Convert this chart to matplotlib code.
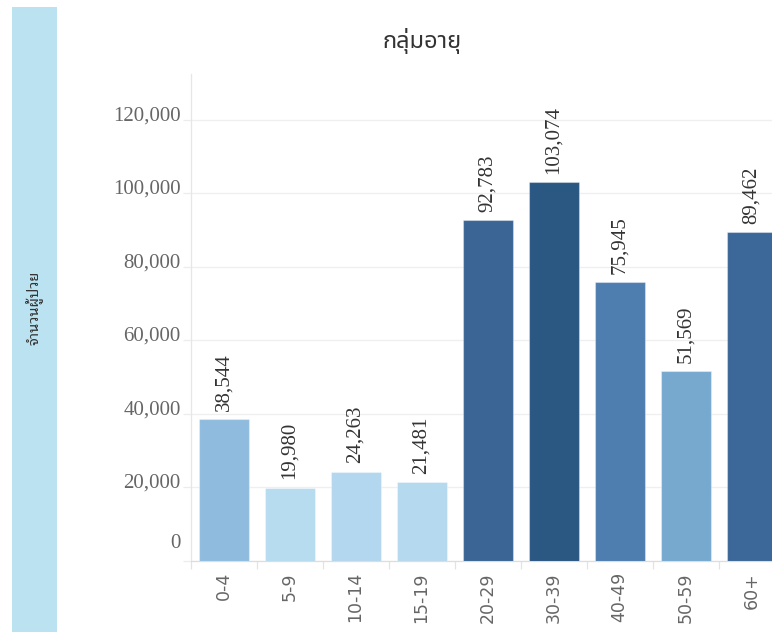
import matplotlib
matplotlib.use("Agg")
import matplotlib.pyplot as plt
import matplotlib.transforms as mtransforms

categories = ["0-4", "5-9", "10-14", "15-19", "20-29", "30-39", "40-49", "50-59", "60+"]
values = [38544, 19980, 24263, 21481, 92783, 103074, 75945, 51569, 89462]
bar_colors = ["#8fbcde", "#b7dcef", "#b3d7ee", "#b5d9ee", "#3a6595",
              "#2b5783", "#4e7eb0", "#77a9cf", "#3c6899"]
yticks = [0, 20000, 40000, 60000, 80000, 100000, 120000]
title = "กลุ่มอายุ"
ylabel = "จำนวนผู้ป่วย"

W, H = 772, 633
fig = plt.figure(figsize=(W / 100, H / 100), dpi=100)

def px(x0, y0, x1, y1):
    return [x0 / W, 1 - y1 / H, (x1 - x0) / W, (y1 - y0) / H]

# left band
band = fig.add_axes(px(12, 7, 57, 632))
band.set_facecolor("#bae2f1")
band.set_xticks([]); band.set_yticks([])
for s in band.spines.values():
    s.set_visible(False)
fig.text(35 / W, 1 - 308 / H, ylabel, rotation=90, ha="center", va="center",
         fontsize=10.5, fontweight="bold", color="#333333",
         family=["Noto Sans Thai Looped", "Noto Sans Thai", "DejaVu Sans"])

ax = fig.add_axes(px(190.5, 74, 784.5, 561))
x = list(range(len(categories)))
ax.bar(x, values, width=50 / 66, color=bar_colors, edgecolor=(1, 1, 1, 0.35),
       linewidth=0.8, zorder=3)
ax.set_xlim(-0.5, len(categories) - 0.5)
ax.set_ylim(0, 132500)

ax.set_yticks(yticks)
ax.set_yticklabels([])
ax.yaxis.grid(True, color="#efefef", linewidth=0.9, zorder=0)
ax.tick_params(axis="y", length=6, color="#ececec", width=0.9)
for v in yticks:
    dy = 18 if v == 0 else 4
    off = mtransforms.ScaledTranslation(-10 / 100, dy / 100, fig.dpi_scale_trans)
    ax.text(0, v, f"{v:,}", transform=ax.get_yaxis_transform() + off,
            ha="right", va="center", fontsize=15, color="#666666",
            family="Liberation Serif")

ax.set_xticks(x)
ax.set_xticklabels(categories, rotation=90, fontsize=12.5, color="#666666",
                   family="DejaVu Sans", va="top")
ax.tick_params(axis="x", which="major", length=0, pad=8)
ax.set_xticks([i - 0.5 for i in range(len(categories) + 1)], minor=True)
ax.tick_params(axis="x", which="minor", length=6, color="#e3e3e3", width=0.9)

for s in ["top", "right"]:
    ax.spines[s].set_visible(False)
ax.spines["left"].set_color("#e6e6e6")
ax.spines["bottom"].set_color("#dddddd")
ax.spines["left"].set_linewidth(0.9)
ax.spines["bottom"].set_linewidth(0.9)

for xi, v in zip(x, values):
    ax.annotate(f"{v:,}", (xi, v), xytext=(0, 6), textcoords="offset points",
                rotation=90, ha="center", va="bottom", fontsize=15,
                color="#333333", family="Liberation Serif", zorder=4)

fig.text(422 / W, 1 - 41 / H, title, ha="center", va="center", fontsize=17,
         color="#333333", family=["Noto Sans Thai", "DejaVu Sans"])

fig.savefig("out.png", dpi=100)
